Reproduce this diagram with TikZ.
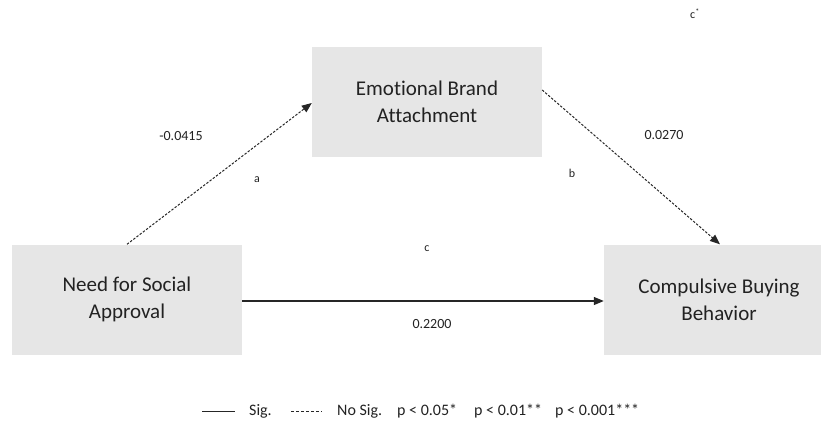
\documentclass[tikz,border=0pt]{standalone}
\usepackage{fontspec}
\setmainfont[Ligatures=NoCommon]{Carlito}
\usetikzlibrary{arrows.meta,calc}
\definecolor{boxgray}{HTML}{E6E6E6}
\definecolor{txt}{HTML}{222222}
\begin{document}
\begin{tikzpicture}[x=1pt,y=-1pt,
  varbox/.style={fill=boxgray,draw=none,inner sep=0pt,align=center,text=txt,
    minimum width=230pt,minimum height=110pt,
    font=\fontsize{21}{27}\selectfont},
  lbl/.style={text=txt,inner sep=0pt,font=\fontsize{14}{16}\selectfont},
  small/.style={text=txt,inner sep=0pt,font=\fontsize{12}{14}\selectfont},
  leg/.style={text=txt,inner sep=0pt,anchor=west,font=\fontsize{16}{18}\selectfont},
  nsig/.style={draw=black!85,line width=1pt,dash pattern=on 2.4pt off 1.6pt,
    -{Triangle[length=10pt,width=8pt]}},
  sig/.style={draw=black!85,line width=1.2pt,-{Triangle[length=10pt,width=8pt]}},
]
\useasboundingbox (0,0) rectangle (821,423);
\node[varbox] (L) at (127,299.5) {Need for Social\\Approval};
\node[varbox] (T) at (427,101.5) {Emotional Brand\\Attachment};
\node[varbox] (R) at (719,299.5) {Compulsive Buying\\Behavior};

\draw[nsig] (L.north) -- ([yshift=-1.5pt]T.west);
\draw[nsig] ([yshift=11.5pt]T.east) -- ([xshift=1pt]R.north);
\draw[sig] ([yshift=-1.5pt]L.east) -- ([yshift=-1.5pt]R.west);

\node[lbl] (n1) at (181,136) {-0.0415};
\node[small] (a) at (257,180) {a};
\node[lbl] (n2) at (664,135) {0.0270};
\node[small] (b) at (572,173) {b};
\node[small] (c) at (427,249) {c};
\node[lbl] (n3) at (432,324) {0.2200};
\node[small] (cs) at (695,14) {c\textsuperscript{*}};

\coordinate (s1) at (202,411);
\coordinate (s2) at (235,411);
\draw[draw=black!85,line width=1pt] (s1) -- (s2);
\node[leg] (sigt) at (249,411) {Sig.};
\coordinate (d1) at (291,411);
\coordinate (d2) at (322,411);
\draw[draw=black!85,line width=0.9pt,dash pattern=on 3pt off 2pt] (d1) -- (d2);
\node[leg] (nsigt) at (337,411) {No Sig.};
\node[leg] (p1) at (397,411) {p < 0.05*};
\node[leg] (p2) at (474,411) {p < 0.01**};
\node[leg] (p3) at (555,411) {p < 0.001***};
\end{tikzpicture}
\end{document}
